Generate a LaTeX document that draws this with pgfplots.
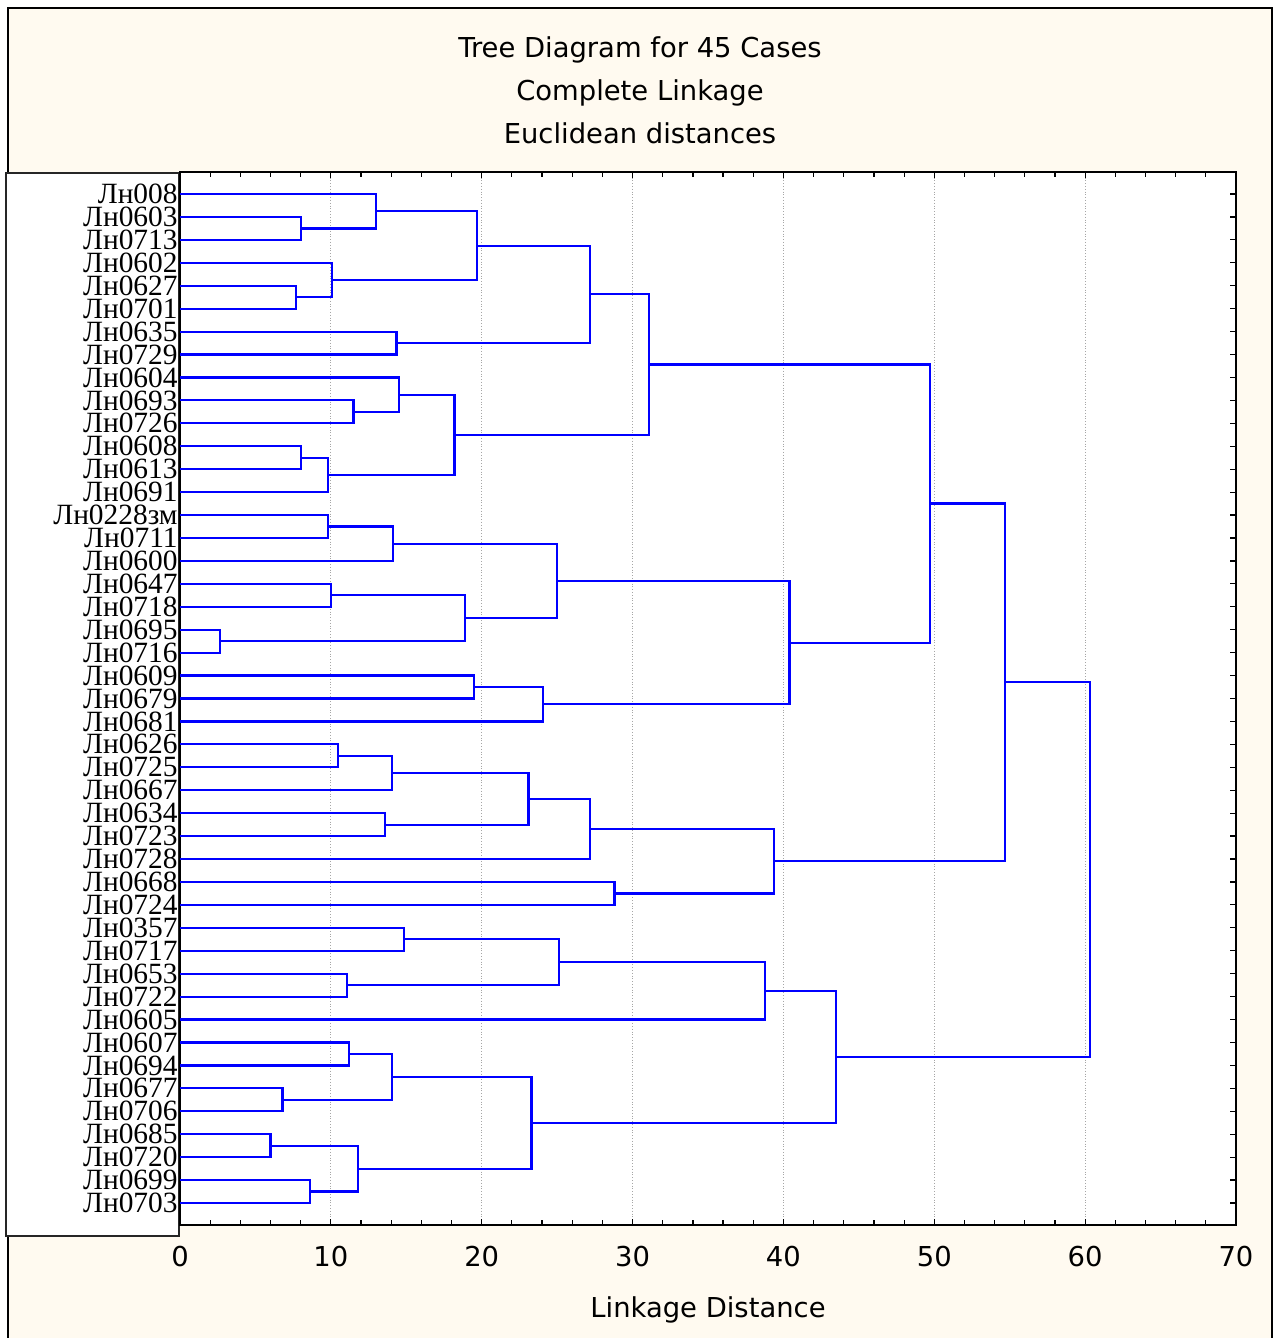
\documentclass[border=0pt]{standalone}
\usepackage{fontspec}
\setmainfont{Liberation Serif}
\newfontfamily\dejavu{DejaVu Sans}
\usepackage{pgfplots}
\pgfplotsset{compat=1.18}
\definecolor{cream}{RGB}{255,250,240}
\definecolor{dblue}{RGB}{0,0,255}
\newcommand{\sansfont}{\dejavu\fontsize{13.7}{16}\selectfont}
\pgfplotsset{dend/.style={color=dblue, line width=1.1pt, mark=none, solid}}
\begin{document}
\begin{tikzpicture}
\useasboundingbox (0,0) rectangle (639pt,669pt);
\fill[cream, draw=black, line width=1pt] (4pt,-5pt) rectangle (636pt,665pt);
\fill[white, draw=black!85, line width=0.8pt] (3pt,51pt) rectangle (89.5pt,582.5pt);
\node[font=\sansfont, anchor=base] at (320pt,640pt) {Tree Diagram for 45 Cases};
\node[font=\sansfont, anchor=base] at (320pt,618.5pt) {Complete Linkage};
\node[font=\sansfont, anchor=base] at (320pt,597pt) {Euclidean distances};
\begin{axis}[
  at={(90pt,56.5pt)}, anchor=south west,
  scale only axis, width=528pt, height=526.5pt,
  xmin=0, xmax=70, ymin=0.04, ymax=45.96, y dir=reverse,
  xtick={0,10,...,70}, minor x tick num=4,
  ytick={1,...,45},
  yticklabels={Лн008,Лн0603,Лн0713,Лн0602,Лн0627,Лн0701,Лн0635,Лн0729,Лн0604,Лн0693,Лн0726,Лн0608,Лн0613,Лн0691,Лн0228зм,Лн0711,Лн0600,Лн0647,Лн0718,Лн0695,Лн0716,Лн0609,Лн0679,Лн0681,Лн0626,Лн0725,Лн0667,Лн0634,Лн0723,Лн0728,Лн0668,Лн0724,Лн0357,Лн0717,Лн0653,Лн0722,Лн0605,Лн0607,Лн0694,Лн0677,Лн0706,Лн0685,Лн0720,Лн0699,Лн0703},
  tick align=inside,
  major tick length=3pt, minor tick length=2.5pt,
  every tick/.style={black, line width=0.6pt},
  axis line style={black, line width=1pt},
  axis background/.style={fill=white},
  xmajorgrids, grid style={densely dotted, gray!70, line width=0.5pt},
  /pgf/number format/assume math mode=true,
  xticklabel style={font=\sansfont, yshift=-7pt},
  yticklabel style={font=\fontsize{14.7}{15}\selectfont, anchor=east, inner xsep=1pt, inner ysep=0pt},
  xlabel={Linkage Distance},
  xlabel style={font=\sansfont, at={(axis description cs:0.5,0)}, anchor=center, yshift=-42.5pt},
]
% cluster 1-14
\addplot[dend] coordinates {(0,2) (8.0,2) (8.0,3) (0,3)};
\addplot[dend] coordinates {(0,1) (13.0,1) (13.0,2.5) (8.0,2.5)};
\addplot[dend] coordinates {(0,5) (7.7,5) (7.7,6) (0,6)};
\addplot[dend] coordinates {(0,4) (10.1,4) (10.1,5.5) (7.7,5.5)};
\addplot[dend] coordinates {(13.0,1.75) (19.7,1.75) (19.7,4.75) (10.1,4.75)};
\addplot[dend] coordinates {(0,7) (14.35,7) (14.35,8) (0,8)};
\addplot[dend] coordinates {(19.7,3.25) (27.2,3.25) (27.2,7.5) (14.35,7.5)};
\addplot[dend] coordinates {(0,10) (11.5,10) (11.5,11) (0,11)};
\addplot[dend] coordinates {(0,9) (14.5,9) (14.5,10.5) (11.5,10.5)};
\addplot[dend] coordinates {(0,12) (8.0,12) (8.0,13) (0,13)};
\addplot[dend] coordinates {(8.0,12.5) (9.8,12.5) (9.8,14) (0,14)};
\addplot[dend] coordinates {(14.5,9.75) (18.2,9.75) (18.2,13.25) (9.8,13.25)};
\addplot[dend] coordinates {(27.2,5.375) (31.1,5.375) (31.1,11.5) (18.2,11.5)};
% cluster 15-24
\addplot[dend] coordinates {(0,15) (9.8,15) (9.8,16) (0,16)};
\addplot[dend] coordinates {(9.8,15.5) (14.1,15.5) (14.1,17) (0,17)};
\addplot[dend] coordinates {(0,18) (10.0,18) (10.0,19) (0,19)};
\addplot[dend] coordinates {(0,20) (2.65,20) (2.65,21) (0,21)};
\addplot[dend] coordinates {(10.0,18.5) (18.9,18.5) (18.9,20.5) (2.65,20.5)};
\addplot[dend] coordinates {(14.1,16.25) (25.0,16.25) (25.0,19.5) (18.9,19.5)};
\addplot[dend] coordinates {(0,22) (19.5,22) (19.5,23) (0,23)};
\addplot[dend] coordinates {(19.5,22.5) (24.05,22.5) (24.05,24) (0,24)};
\addplot[dend] coordinates {(25.0,17.875) (40.4,17.875) (40.4,23.25) (24.05,23.25)};
\addplot[dend] coordinates {(31.1,8.4375) (49.7,8.4375) (49.7,20.5625) (40.4,20.5625)};
% cluster 25-32
\addplot[dend] coordinates {(0,25) (10.45,25) (10.45,26) (0,26)};
\addplot[dend] coordinates {(10.45,25.5) (14.07,25.5) (14.07,27) (0,27)};
\addplot[dend] coordinates {(0,28) (13.6,28) (13.6,29) (0,29)};
\addplot[dend] coordinates {(14.07,26.25) (23.1,26.25) (23.1,28.5) (13.6,28.5)};
\addplot[dend] coordinates {(23.1,27.375) (27.2,27.375) (27.2,30) (0,30)};
\addplot[dend] coordinates {(0,31) (28.8,31) (28.8,32) (0,32)};
\addplot[dend] coordinates {(27.2,28.6875) (39.4,28.6875) (39.4,31.5) (28.8,31.5)};
\addplot[dend] coordinates {(49.7,14.5) (54.7,14.5) (54.7,30.09375) (39.4,30.09375)};
% cluster 33-45
\addplot[dend] coordinates {(0,33) (14.85,33) (14.85,34) (0,34)};
\addplot[dend] coordinates {(0,35) (11.05,35) (11.05,36) (0,36)};
\addplot[dend] coordinates {(14.85,33.5) (25.1,33.5) (25.1,35.5) (11.05,35.5)};
\addplot[dend] coordinates {(25.1,34.5) (38.8,34.5) (38.8,37) (0,37)};
\addplot[dend] coordinates {(0,38) (11.2,38) (11.2,39) (0,39)};
\addplot[dend] coordinates {(0,40) (6.8,40) (6.8,41) (0,41)};
\addplot[dend] coordinates {(11.2,38.5) (14.07,38.5) (14.07,40.5) (6.8,40.5)};
\addplot[dend] coordinates {(0,42) (6.0,42) (6.0,43) (0,43)};
\addplot[dend] coordinates {(0,44) (8.6,44) (8.6,45) (0,45)};
\addplot[dend] coordinates {(6.0,42.5) (11.8,42.5) (11.8,44.5) (8.6,44.5)};
\addplot[dend] coordinates {(14.07,39.5) (23.3,39.5) (23.3,43.5) (11.8,43.5)};
\addplot[dend] coordinates {(38.8,35.75) (43.5,35.75) (43.5,41.5) (23.3,41.5)};
\addplot[dend] coordinates {(54.7,22.297) (60.3,22.297) (60.3,38.625) (43.5,38.625)};
\end{axis}
\end{tikzpicture}
\end{document}
